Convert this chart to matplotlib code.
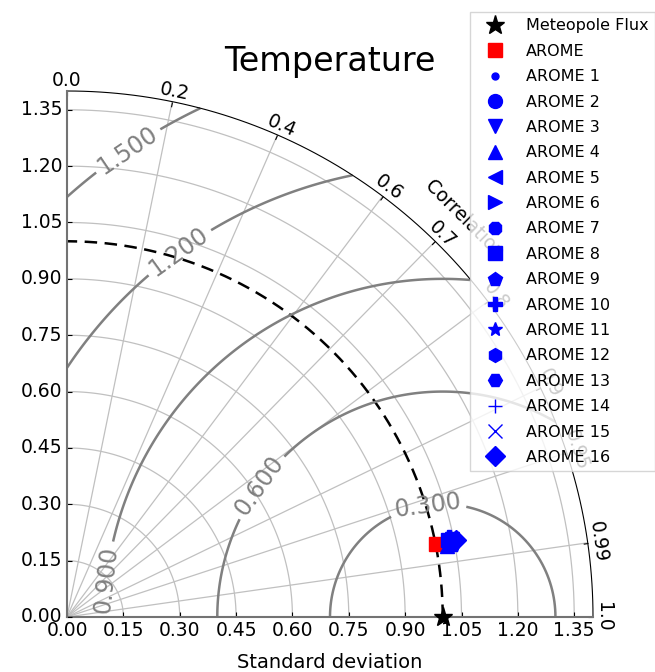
import numpy as np
import matplotlib
matplotlib.use("Agg")
import matplotlib.pyplot as plt
from matplotlib.projections import PolarAxes
import mpl_toolkits.axisartist.floating_axes as FA
import mpl_toolkits.axisartist.grid_finder as GF

# ---- data -------------------------------------------------------------
ref_label = "Meteopole Flux"
ref_std = 1.0

model_labels = ["AROME"] + ["AROME %d" % i for i in range(1, 17)]
model_std = [1.000, 1.040, 1.035, 1.045, 1.030, 1.038, 1.050, 1.042, 1.036,
             1.044, 1.039, 1.047, 1.033, 1.041, 1.037, 1.043, 1.055]
model_corr = [0.981, 0.981, 0.982, 0.980, 0.983, 0.981, 0.980, 0.982, 0.980,
              0.983, 0.979, 0.982, 0.981, 0.980, 0.982, 0.981, 0.981]
model_markers = ["s", ".", "o", "v", "^", "<", ">", "8", "s", "p", "P", "*",
                 "h", "H", "+", "x", "D"]
model_colors = ["red"] + ["blue"] * 16

corr_ticks = [0.0, 0.2, 0.4, 0.6, 0.7, 0.8, 0.9, 0.95, 0.99, 1.0]
std_ticks = [0.0, 0.15, 0.30, 0.45, 0.60, 0.75, 0.90, 1.05, 1.20, 1.35]
rms_levels = [0.3, 0.6, 0.9, 1.2, 1.5]
std_max = 1.4

# ---- figure -----------------------------------------------------------
plt.rcParams["font.family"] = ["DejaVu Sans"]
fig = plt.figure(figsize=(6.55, 6.72), dpi=100)

tr = PolarAxes.PolarTransform()
tlocs = np.arccos(corr_ticks)
gl1 = GF.FixedLocator(tlocs)
tf1 = GF.DictFormatter(dict(zip(tlocs, [str(c) for c in corr_ticks])))
gl2 = GF.FixedLocator(std_ticks)
tf2 = GF.DictFormatter({s: "%.2f" % s for s in std_ticks})

ghelper = FA.GridHelperCurveLinear(tr, extremes=(0, np.pi / 2, 0, std_max),
                                   grid_locator1=gl1, tick_formatter1=tf1,
                                   grid_locator2=gl2, tick_formatter2=tf2)
ax = FA.FloatingSubplot(fig, 111, grid_helper=ghelper)
fig.add_subplot(ax)
# floating axes pad their limits by 2 %, so the box is enlarged to compensate
side = 526 * 1.02
ax.set_position([(67 - 0.01 * 526) / 655, 1 - (617 + 0.01 * 526) / 672,
                 side / 655, side / 672])

tick_fs = 13.5
# correlation arc
ax.axis["top"].set_axis_direction("bottom")
ax.axis["top"].toggle(ticklabels=True, label=True)
ax.axis["top"].major_ticklabels.set_axis_direction("top")
ax.axis["top"].major_ticklabels.set_fontsize(tick_fs)
ax.axis["top"].label.set_axis_direction("top")
ax.axis["top"].label.set_text("Correlation")
ax.axis["top"].label.set_fontsize(tick_fs)
ax.axis["top"].line.set_color("black")
# horizontal std axis
ax.axis["left"].set_axis_direction("bottom")
ax.axis["left"].label.set_text("Standard deviation")
ax.axis["left"].label.set_fontsize(14)
ax.axis["left"].label.set_pad(12)
ax.axis["left"].major_ticklabels.set_fontsize(tick_fs)
ax.axis["left"].line.set_color("0.45")
ax.axis["left"].line.set_linewidth(1.5)
# vertical std axis
ax.axis["right"].set_axis_direction("top")
ax.axis["right"].toggle(ticklabels=True)
ax.axis["right"].major_ticklabels.set_axis_direction("left")
ax.axis["right"].major_ticklabels.set_fontsize(tick_fs)
ax.axis["right"].line.set_color("0.45")
ax.axis["right"].line.set_linewidth(1.5)
ax.axis["bottom"].set_visible(False)

ax.grid(True, color="#c0c0c0", linestyle="-", linewidth=0.9)

pax = ax.get_aux_axes(tr)

# reference arc and point
t = np.linspace(0, np.pi / 2, 200)
pax.plot(t, np.full_like(t, ref_std), "k--", lw=1.8, dashes=(5, 3))

# centred RMS difference contours
rs, ts = np.meshgrid(np.linspace(0, std_max, 200), np.linspace(0, np.pi / 2, 200))
rms = np.sqrt(ref_std ** 2 + rs ** 2 - 2 * ref_std * rs * np.cos(ts))
cs = pax.contour(ts, rs, rms, rms_levels, colors="0.5", linewidths=1.8)
label_xy = [(0.10, 0.10), (0.51, 0.35), (0.96, 0.30), (0.30, 0.97), (0.17, 1.23)]
manual = [(np.arctan2(y, x), np.hypot(x, y)) for x, y in label_xy]
ax.clabel(cs, inline=True, fontsize=17, fmt="%.3f", manual=manual)

handles = []
h, = pax.plot(0, ref_std, "k*", ms=14, ls="", label=ref_label, clip_on=False, zorder=10)
handles.append(h)
for lab, s, c, m, col in zip(model_labels, model_std, model_corr,
                             model_markers, model_colors):
    h, = pax.plot(np.arccos(c), s, marker=m, ms=10, ls="", color=col,
                  mfc=col, mec=col, label=lab, zorder=5)
    handles.append(h)

fig.text(330 / 655, 1 - 71 / 672, "Temperature", ha="center", va="baseline",
         fontsize=24)

fig.legend(handles, [h.get_label() for h in handles], numpoints=1,
           loc="upper left", bbox_to_anchor=(470 / 655, 1 - 12 / 672),
           borderaxespad=0, fontsize=11.5, labelspacing=0.65, handlelength=2.3,
           handletextpad=0.8, borderpad=0.4, framealpha=0.8,
           edgecolor="#cccccc", fancybox=False)

fig.savefig("out.png", dpi=100)
